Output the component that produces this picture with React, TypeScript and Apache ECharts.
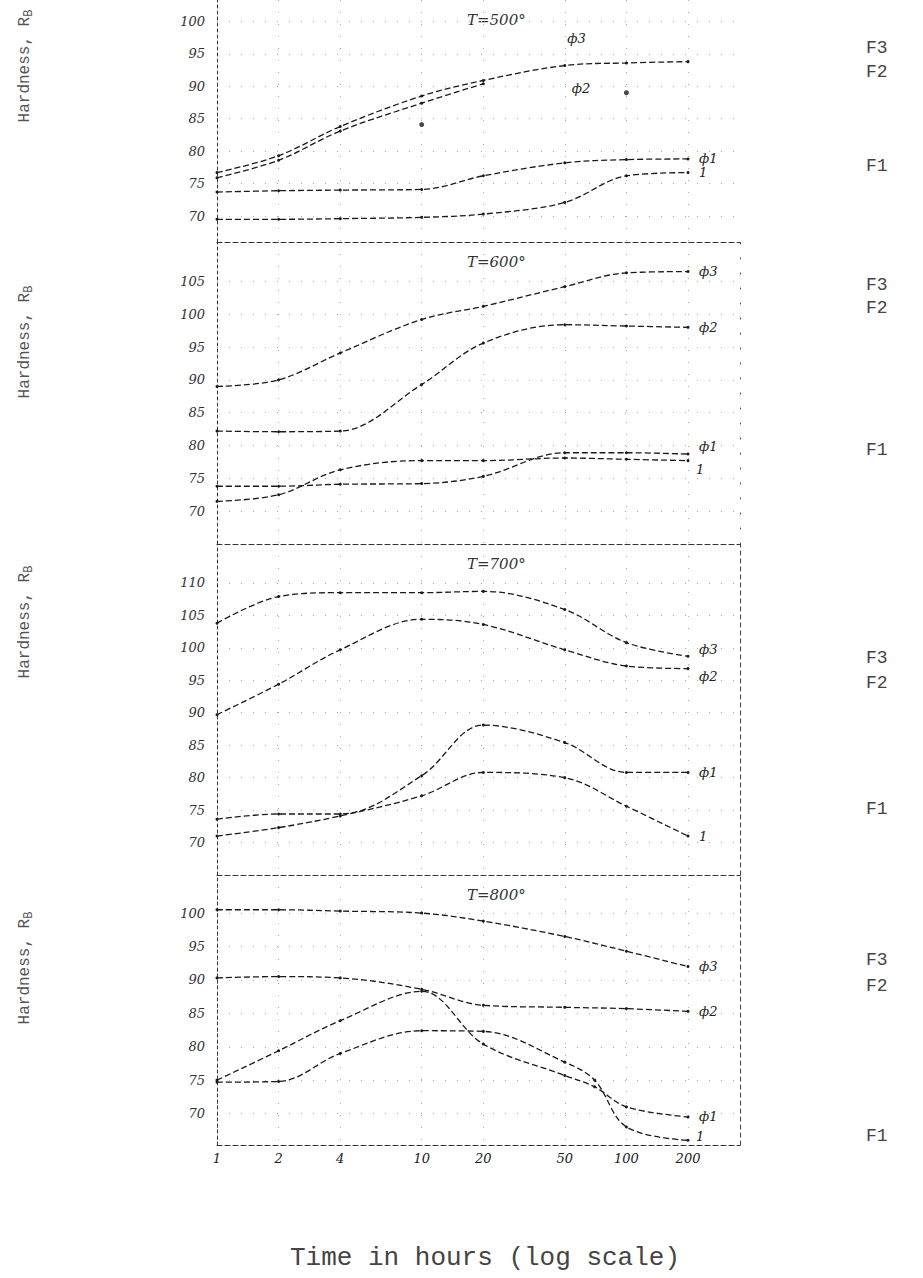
import React, { useEffect, useRef } from "react";
import * as echarts from "echarts";

// ---- data ----
const hours = [1, 2, 4, 10, 20, 50, 100, 200];
const xTickLabels = ["1", "2", "4", "10", "20", "50", "100", "200"];
const panelTitles = ["T=500°", "T=600°", "T=700°", "T=800°"];

const p1Ticks = [70, 75, 80, 85, 90, 95, 100];
const p2Ticks = [70, 75, 80, 85, 90, 95, 100, 105];
const p3Ticks = [70, 75, 80, 85, 90, 95, 100, 105, 110];
const p4Ticks = [70, 75, 80, 85, 90, 95, 100];

// Panel 1 (T=500°)
const p1Phi3 = [76.7, 79.3, 83.8, 88.5, 90.9, 93.2, 93.6, 93.8];
const p1Phi2Hours = [1, 2, 4, 10, 20];
const p1Phi2 = [75.9, 78.6, 83.1, 87.4, 90.4];
const p1Phi1 = [73.7, 73.9, 74.0, 74.1, 76.2, 78.2, 78.7, 78.8];
const p1One = [69.5, 69.5, 69.6, 69.8, 70.3, 72.1, 76.2, 76.7];
const p1DotHours = [10, 100];
const p1Dots = [84.1, 89.0];

// Panel 2 (T=600°)
const p2Phi3 = [89.0, 90.0, 94.1, 99.2, 101.2, 104.2, 106.3, 106.5];
const p2Phi2 = [82.2, 82.1, 82.2, 89.3, 95.6, 98.4, 98.2, 98.0];
const p2Phi1 = [73.8, 73.8, 74.1, 74.2, 75.3, 78.9, 78.9, 78.7];
const p2One = [71.5, 72.5, 76.3, 77.7, 77.7, 78.1, 77.9, 77.7];

// Panel 3 (T=700°)
const p3Phi3 = [103.8, 107.9, 108.5, 108.5, 108.7, 105.9, 100.8, 98.7];
const p3Phi2 = [89.7, 94.4, 99.7, 104.4, 103.6, 99.7, 97.2, 96.8];
const p3Phi1 = [73.6, 74.4, 74.4, 80.3, 88.1, 85.4, 80.8, 80.8];
const p3One = [71.0, 72.3, 74.1, 77.2, 80.8, 80.0, 75.6, 71.0];

// Panel 4 (T=800°)
const p4Phi3 = [100.5, 100.5, 100.3, 100.0, 98.8, 96.5, 94.3, 92.0];
const p4Phi2 = [90.3, 90.5, 90.3, 88.6, 86.2, 85.9, 85.7, 85.3];
const p4Phi1Hours = [1, 2, 4, 10, 20, 50, 70, 100, 200];
const p4Phi1 = [75.0, 79.4, 83.9, 88.3, 80.4, 75.7, 74.0, 71.0, 69.5];
const p4OneHours = [1, 2, 4, 10, 20, 50, 70, 100, 200];
const p4One = [74.7, 74.8, 79.0, 82.4, 82.3, 77.7, 75.0, 68.0, 66.0];

// ---- layout ----
const GRID_LEFT = 217;
const GRID_WIDTH = 523;
const panels = [
  { top: 0, height: 242, min: 66, max: 103.3, ticks: p1Ticks },
  { top: 242, height: 302, min: 65, max: 111, ticks: p2Ticks },
  { top: 544, height: 331, min: 65, max: 116, ticks: p3Ticks },
  { top: 875, height: 270, min: 65.3, max: 105.7, ticks: p4Ticks },
];
const X_MAX = 2.555;

const INK = "#1a1a1a";
const HAND = "DejaVu Serif";
const TYPE = "Liberation Mono";

const pairs = (hs: number[], vs: number[]) => vs.map((v, i) => [Math.log10(hs[i]), v]);

function curve(idx: number, hs: number[], vs: number[], endText?: string, off: number[] = [3, 0], extra: any = {}) {
  return {
    type: "line",
    xAxisIndex: idx,
    yAxisIndex: idx,
    data: pairs(hs, vs),
    smooth: 0.35,
    symbol: "circle",
    symbolSize: 3,
    silent: true,
    lineStyle: { color: INK, width: 1.3, type: [6, 3] },
    itemStyle: { color: INK },
    endLabel: endText
      ? {
          show: true,
          formatter: endText,
          offset: off,
          fontStyle: "italic",
          fontFamily: HAND,
          fontSize: 13,
          color: "#222",
        }
      : { show: false },
    ...extra,
  };
}

function textMark(x: number, y: number, text: string) {
  return {
    coord: [Math.log10(x), y],
    symbol: "circle",
    symbolSize: 1,
    itemStyle: { color: "rgba(0,0,0,0)" },
    label: {
      show: true,
      position: "inside",
      formatter: text,
      fontStyle: "italic",
      fontFamily: HAND,
      fontSize: 13,
      color: "#222",
    },
  };
}

export default function App() {
  const ref = useRef<HTMLDivElement>(null);

  useEffect(() => {
    if (!ref.current) return;
    const chart = echarts.init(ref.current, undefined, { renderer: "svg" });

    const xCustom = hours.map((h) => Math.log10(h));

    const grids = panels.map((p) => ({
      left: GRID_LEFT,
      width: GRID_WIDTH,
      top: p.top,
      height: p.height,
    }));

    const xAxes = panels.map((p, i) => ({
      type: "value",
      gridIndex: i,
      min: 0,
      max: X_MAX,
      axisLine: { show: true, lineStyle: { color: "#333", type: [5, 3], width: 1 } },
      axisTick: { show: false, customValues: xCustom },
      splitLine: { show: true, lineStyle: { color: "#aaa", type: [1, 11], width: 1 } },
      axisLabel: {
        show: i === 3,
        customValues: xCustom,
        formatter: (v: number) => {
          const h = Math.round(Math.pow(10, v));
          const k = hours.indexOf(h);
          return k >= 0 ? xTickLabels[k] : "";
        },
        fontStyle: "italic",
        fontFamily: HAND,
        fontSize: 13,
        color: "#222",
        margin: 7,
      },
    }));

    const yAxes: any[] = panels.map((p, i) => ({
      type: "value",
      gridIndex: i,
      min: p.min,
      max: p.max,
      axisLine: { show: true, lineStyle: { color: "#333", type: [3, 3], width: 1 } },
      axisTick: { show: false, customValues: p.ticks },
      splitLine: { show: true, lineStyle: { color: "#aaa", type: [1, 11], width: 1 } },
      axisLabel: {
        customValues: p.ticks,
        fontStyle: "italic",
        fontFamily: HAND,
        fontSize: 13,
        color: "#333",
        margin: 12,
      },
    }));
    // right borders of the lower panels
    [1, 2, 3].forEach((gi) => {
      yAxes.push({
        type: "value",
        gridIndex: gi,
        position: "right",
        min: panels[gi].min,
        max: panels[gi].max,
        axisLine: {
          show: true,
          lineStyle: { color: "#444", type: gi === 1 ? [1, 14] : [4, 4], width: 1 },
        },
        axisTick: { show: false },
        axisLabel: { show: false },
        splitLine: { show: false },
      });
    });

    const series: any[] = [
      // Panel 1
      curve(0, hours, p1Phi3, undefined, [3, 0], {
        markPoint: {
          silent: true,
          data: [textMark(57, 97.4, "ф3"), textMark(60, 89.7, "ф2")],
        },
      }),
      curve(0, p1Phi2Hours, p1Phi2),
      curve(0, hours, p1Phi1, "ф1"),
      curve(0, hours, p1One, "1"),
      {
        type: "scatter",
        xAxisIndex: 0,
        yAxisIndex: 0,
        data: pairs(p1DotHours, p1Dots),
        symbolSize: 5,
        itemStyle: { color: INK },
        silent: true,
      },
      // Panel 2
      curve(1, hours, p2Phi3, "ф3"),
      curve(1, hours, p2Phi2, "ф2"),
      curve(1, hours, p2Phi1, "ф1", [3, -8]),
      curve(1, hours, p2One, "1", [0, 9]),
      // Panel 3
      curve(2, hours, p3Phi3, "ф3", [3, -7]),
      curve(2, hours, p3Phi2, "ф2", [3, 8]),
      curve(2, hours, p3Phi1, "ф1"),
      curve(2, hours, p3One, "1"),
      // Panel 4
      curve(3, hours, p4Phi3, "ф3"),
      curve(3, hours, p4Phi2, "ф2"),
      curve(3, p4Phi1Hours, p4Phi1, "ф1"),
      curve(3, p4OneHours, p4One, "1", [0, -4]),
    ];

    // annotations outside the plotting areas
    const hardnessCenters = [66, 342, 622, 968];
    const fLabels = [
      [48, 72, 166],
      [285, 308, 450],
      [658, 683, 809],
      [960, 986, 1136],
    ];
    const graphic: any[] = [];
    panels.forEach((p, i) => {
      graphic.push({
        type: "text",
        x: 467,
        y: p.top + 20,
        silent: true,
        style: {
          text: panelTitles[i],
          fontFamily: HAND,
          fontStyle: "italic",
          fontSize: 15,
          fill: "#333",
          textVerticalAlign: "middle",
        },
      });
      graphic.push({
        type: "text",
        x: 25,
        y: hardnessCenters[i],
        rotation: Math.PI / 2,
        silent: true,
        style: {
          text: "{a|Hardness, R}{b|B}",
          textAlign: "center",
          textVerticalAlign: "middle",
          rich: {
            a: { fontFamily: TYPE, fontSize: 16, fill: "#555" },
            b: { fontFamily: TYPE, fontSize: 12, fill: "#555", padding: [7, 0, 0, 0] },
          },
        },
      });
      ["F3", "F2", "F1"].forEach((t, k) => {
        graphic.push({
          type: "text",
          x: 866,
          y: fLabels[i][k],
          silent: true,
          style: {
            text: t,
            fontFamily: TYPE,
            fontSize: 18,
            fill: "#444",
            textVerticalAlign: "middle",
          },
        });
      });
    });
    graphic.push({
      type: "text",
      x: 485,
      y: 1258,
      silent: true,
      style: {
        text: "Time in hours (log scale)",
        fontFamily: TYPE,
        fontSize: 26,
        fill: "#444",
        textAlign: "center",
        textVerticalAlign: "middle",
      },
    });

    chart.setOption({
      animation: false,
      backgroundColor: "#ffffff",
      grid: grids,
      xAxis: xAxes,
      yAxis: yAxes,
      series,
      graphic,
    });

    return () => chart.dispose();
  }, []);

  return (
    <div
      ref={ref}
      style={{ position: "absolute", left: 0, top: 0, width: 923, height: 1278 }}
    />
  );
}
